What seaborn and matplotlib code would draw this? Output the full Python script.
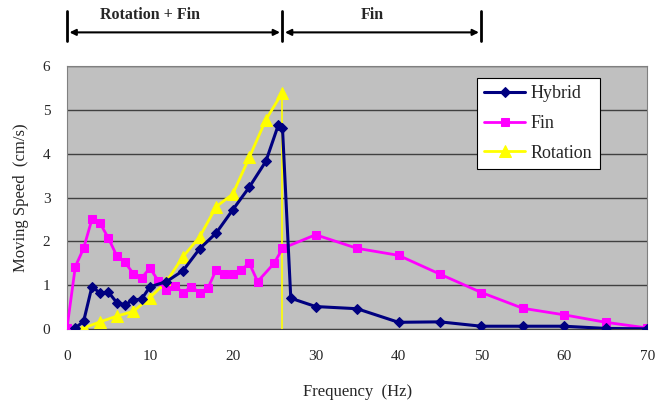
import pandas as pd
import matplotlib
matplotlib.use("Agg")
import matplotlib.pyplot as plt
import seaborn as sns

# Hybrid (rotation + fin)
hybrid_freq = [1, 2, 3, 4, 5, 6, 7, 8, 9, 10, 12, 14, 16, 18, 20, 22, 24, 25.5, 26, 27, 30, 35, 40, 45, 50, 55, 60, 65, 70]
hybrid_speed = [0.02, 0.17, 0.96, 0.82, 0.84, 0.60, 0.55, 0.66, 0.68, 0.96, 1.08, 1.33, 1.83, 2.19, 2.72, 3.24, 3.83, 4.66, 4.58,
                0.70, 0.51, 0.46, 0.15, 0.16, 0.06, 0.06, 0.06, 0.01, 0.0]

# Fin only
fin_freq = [0, 1, 2, 3, 4, 5, 6, 7, 8, 9, 10, 11, 12, 13, 14, 15, 16, 17, 18, 19, 20, 21, 22, 23, 25, 26,
            30, 35, 40, 45, 50, 55, 60, 65, 70]
fin_speed = [0.02, 1.42, 1.84, 2.50, 2.41, 2.07, 1.67, 1.52, 1.26, 1.16, 1.39, 1.10, 0.89, 0.98, 0.83, 0.96, 0.83, 0.93,
             1.35, 1.26, 1.26, 1.35, 1.50, 1.08, 1.50, 1.84, 2.15, 1.84, 1.68, 1.25, 0.83, 0.47, 0.32, 0.15, 0.02]

# Rotation only
rot_freq = [0, 2, 4, 6, 8, 10, 12, 14, 16, 18, 20, 22, 24, 26]
rot_speed = [0.0, 0.02, 0.16, 0.29, 0.40, 0.71, 1.08, 1.65, 2.10, 2.79, 3.08, 3.92, 4.78, 5.40]

# regime markers on top
regime_edges = [0, 26, 50]
regime_names = ["Rotation + Fin", "Fin"]
regime_label_pos = [10, 36.8]

sns.set_style("white")
plt.rcParams['font.family'] = ['Liberation Serif', 'DejaVu Serif']

fig = plt.figure(figsize=(6.57, 4.04), dpi=100)
ax = fig.add_axes([0.102, 0.186, 0.883, 0.650])
ax.set_facecolor('#C0C0C0')

df_h = pd.DataFrame({'f': hybrid_freq, 'v': hybrid_speed})
df_f = pd.DataFrame({'f': fin_freq, 'v': fin_speed})
df_r = pd.DataFrame({'f': rot_freq, 'v': rot_speed})

sns.lineplot(data=df_r, x='f', y='v', ax=ax, color='#FFFF00', marker='^', markersize=8,
             markeredgecolor='#FFFF00', linewidth=2, label='Rotation', zorder=3)
# rotation drops straight to zero at its last frequency
ax.plot([rot_freq[-1], rot_freq[-1]], [rot_speed[-1], 0], color='#FFFF00', linewidth=1.2, zorder=3)
sns.lineplot(data=df_f, x='f', y='v', ax=ax, color='#FF00FF', marker='s', markersize=6,
             markeredgecolor='#FF00FF', linewidth=2, label='Fin', zorder=4)
sns.lineplot(data=df_h, x='f', y='v', ax=ax, color='#000080', marker='D', markersize=5,
             markeredgecolor='#000080', linewidth=2.2, label='Hybrid', zorder=5)

ax.set_xlim(0, 70)
ax.set_ylim(0, 6)
ax.set_xticks(range(0, 71, 10))
ax.set_yticks(range(0, 7))
ax.yaxis.grid(True, color='#404040', linewidth=1)
ax.set_axisbelow(True)
ax.tick_params(axis='x', direction='in', length=4, color='black', labelsize=11, pad=15)
ax.tick_params(axis='y', length=0, labelsize=11, pad=12)
for side in ['top', 'right']:
    ax.spines[side].set_color('#808080')
ax.spines['left'].set_color('#808080')
ax.spines['bottom'].set_color('#404040')
ax.set_xlabel('Frequency  (Hz)', fontsize=12, labelpad=15)
ax.set_ylabel('Moving Speed  (cm/s)', fontsize=12, labelpad=10)

handles, labels = ax.get_legend_handles_labels()
order = [labels.index(n) for n in ['Hybrid', 'Fin', 'Rotation']]
leg = ax.legend([handles[i] for i in order], [labels[i] for i in order],
                loc='upper left', bbox_to_anchor=(0.706, 0.955), fontsize=13,
                frameon=True, fancybox=False, framealpha=1, edgecolor='black',
                handlelength=2.3, labelspacing=0.7, borderpad=0.4, handletextpad=0.3,
                borderaxespad=0)
leg.get_frame().set_linewidth(0.8)

# top annotation: regimes
xt = ax.get_xaxis_transform()
y_arrow = 1.129
for e in regime_edges:
    ax.plot([e, e], [1.095, 1.209], transform=xt, color='black', linewidth=2, clip_on=False)
for a, b in zip(regime_edges[:-1], regime_edges[1:]):
    ax.annotate('', xy=(a + 0.3, y_arrow), xytext=(b - 0.3, y_arrow), xycoords=xt,
                arrowprops=dict(arrowstyle='<|-|>', color='black', lw=1.5,
                                mutation_scale=9, shrinkA=0, shrinkB=0))
for xpos, name in zip(regime_label_pos, regime_names):
    ax.text(xpos, 1.195, name, transform=xt, ha='center', va='center',
            fontsize=11.5, fontweight='bold')

fig.savefig('out.png', dpi=100)
